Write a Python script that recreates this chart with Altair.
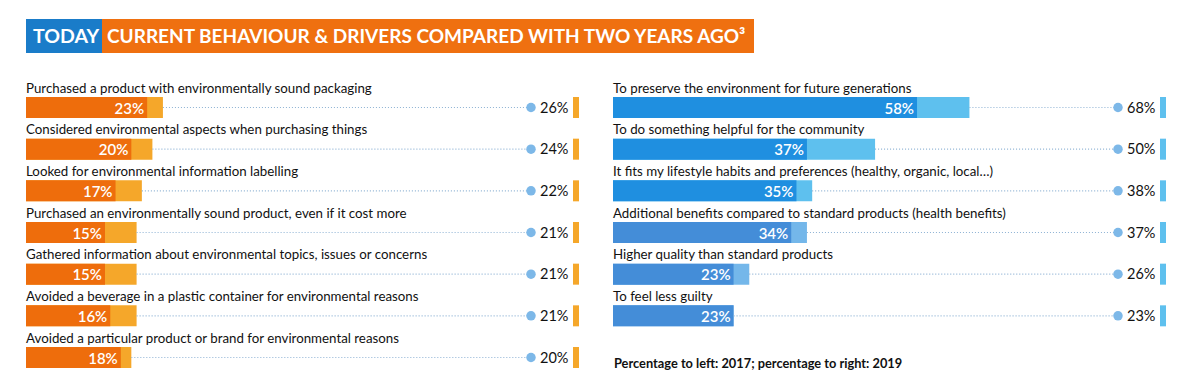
import altair as alt
import pandas as pd

# ---- data ----
left_labels = [
    "Purchased a product with environmentally sound packaging",
    "Considered environmental aspects when purchasing things",
    "Looked for environmental information labelling",
    "Purchased an environmentally sound product, even if it cost more",
    "Gathered information about environmental topics, issues or concerns",
    "Avoided a beverage in a plastic container for environmental reasons",
    "Avoided a particular product or brand for environmental reasons",
]
left_2017 = [23, 20, 17, 15, 15, 16, 18]
left_2019 = [26, 24, 22, 21, 21, 21, 20]

right_labels = [
    "To preserve the environment for future generations",
    "To do something helpful for the community",
    "It fits my lifestyle habits and preferences (healthy, organic, local…)",
    "Additional benefits compared to standard products (health benefits)",
    "Higher quality than standard products",
    "To feel less guilty",
]
right_2017 = [58, 37, 35, 34, 23, 23]
right_2019 = [68, 50, 38, 37, 26, 23]

header_left = "TODAY"
header_right = "CURRENT BEHAVIOUR & DRIVERS COMPARED WITH TWO YEARS AGO³"
footnote = "Percentage to left: 2017; percentage to right: 2019"

# ---- styles ----
FONT = "Lato"
ORANGE_DARK = "#ee6d0c"
ORANGE_LIGHT = "#f5a72a"
BLUE_HEADER = "#1a7cc9"
ORANGE_HEADER = "#ef7010"
right_dark = ["#1f8fe0", "#1f8fe0", "#1f8fe0", "#448dd8", "#448dd8", "#448dd8"]
right_light = ["#5ec0ee", "#5ec0ee", "#5ec0ee", "#74b7ea", "#74b7ea", "#74b7ea"]
DOT = "#7db8e8"
DOTLINE = "#8eb2d4"

PANEL_W = 553
PANEL_H = 290
ROWS = list(range(7))


def panel(labels, v17, v19, dark, light, tick_color, xmax, note=None):
    df = pd.DataFrame({
        "row": list(range(len(labels))),
        "label": labels,
        "v17": v17,
        "v19": v19,
        "t17": [f"{v}%" for v in v17],
        "t19": [f"{v}%" for v in v19],
        "dark": dark,
        "light": light,
    })
    y = alt.Y("row:O", axis=None,
              scale=alt.Scale(type="point", domain=ROWS, range=[27.5, 277.5], padding=0))
    xs = alt.Scale(domain=[0, xmax], nice=False, zero=True)
    base = alt.Chart(df)

    light_bar = base.mark_bar(size=21).encode(
        x=alt.X("v19:Q", scale=xs, axis=None),
        y=y,
        color=alt.Color("light:N", scale=None),
    )
    dark_bar = base.mark_bar(size=21).encode(
        x=alt.X("v17:Q", scale=xs, axis=None),
        y=y,
        color=alt.Color("dark:N", scale=None),
    )
    dots_line = base.mark_rule(color=DOTLINE, strokeWidth=1.2, strokeDash=[1, 2]).encode(
        x=alt.X("v19:Q", scale=xs, axis=None),
        x2=alt.value(505),
        y=y,
    )
    dot = base.mark_circle(size=90, color=DOT, opacity=1).encode(
        x=alt.value(505), y=y
    )
    val19 = base.mark_text(align="left", baseline="middle", font=FONT,
                           fontSize=14.5, color="#111111", dy=1).encode(
        x=alt.value(514), y=y, text="t19:N"
    )
    tick = base.mark_tick(orient="vertical", thickness=6, size=21,
                          color=tick_color, opacity=1).encode(
        x=alt.value(550), y=y
    )
    val17 = base.mark_text(align="right", baseline="middle", font=FONT,
                           fontSize=15, fontWeight=600, color="white", dx=-3, dy=1).encode(
        x=alt.X("v17:Q", scale=xs, axis=None), y=y, text="t17:N"
    )
    lab = base.mark_text(align="left", baseline="alphabetic", font=FONT,
                         fontSize=13.3, color="#111111", dy=-15).encode(
        x=alt.value(0), y=y, text="label:N"
    )
    layers = [light_bar, dark_bar, dots_line, dot, val19, tick, val17, lab]
    if note is not None:
        nd = pd.DataFrame({"t": [note]})
        layers.append(
            alt.Chart(nd).mark_text(align="left", baseline="alphabetic", font=FONT,
                                    fontSize=12.8, fontWeight="bold", color="#111111").encode(
                x=alt.value(1), y=alt.value(288), text="t:N"
            )
        )
    return alt.layer(*layers).properties(width=PANEL_W, height=PANEL_H)


left = panel(left_labels, left_2017, left_2019,
             [ORANGE_DARK] * 7, [ORANGE_LIGHT] * 7, ORANGE_LIGHT, 105)
right = panel(right_labels, right_2017, right_2019,
              right_dark, right_light, "#5ec0ee", 105.5, note=footnote)

hd = pd.DataFrame({"a": [0]})
hbase = alt.Chart(hd)
header = alt.layer(
    hbase.mark_rect(color=ORANGE_HEADER).encode(
        x=alt.value(76), x2=alt.value(728), y=alt.value(0), y2=alt.value(34)),
    hbase.mark_rect(color=BLUE_HEADER).encode(
        x=alt.value(0), x2=alt.value(76), y=alt.value(0), y2=alt.value(34)),
    hbase.mark_text(align="left", baseline="middle", font=FONT, fontSize=19.5,
                    fontWeight="bold", color="white").encode(
        x=alt.value(7), y=alt.value(18), text=alt.value(header_left)),
    hbase.mark_text(align="left", baseline="middle", font=FONT, fontSize=19,
                    fontWeight="bold", color="white").encode(
        x=alt.value(81), y=alt.value(18), text=alt.value(header_right)),
).properties(width=728, height=34)

chart = alt.vconcat(
    header,
    alt.hconcat(left, right, spacing=34),
    spacing=27,
).properties(
    padding={"left": 18, "top": 11, "right": 0, "bottom": 0},
    background="white",
).configure_view(stroke=None)

chart.save("out.html", embed_options={"renderer": "svg", "actions": False})
